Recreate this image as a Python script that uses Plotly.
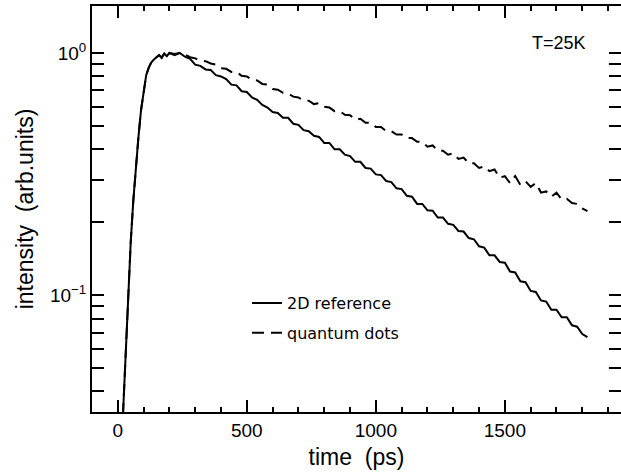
import plotly.graph_objects as go

# ---- data ----
time_ps = [20, 30, 40, 50, 60, 70, 80, 90, 100, 110, 120, 130, 140, 150, 160, 170, 180, 190, 200,
           220, 240, 260, 280, 300, 320, 340, 360, 380, 400, 420, 440, 460, 480, 500, 520, 540, 560,
           580, 600, 620, 640, 660, 680, 700, 720, 740, 760, 780, 800, 820, 840, 860, 880, 900, 920,
           940, 960, 980, 1000, 1020, 1040, 1060, 1080, 1100, 1120, 1140, 1160, 1180, 1200, 1220,
           1240, 1260, 1280, 1300, 1320, 1340, 1360, 1380, 1400, 1420, 1440, 1460, 1480, 1500, 1520,
           1540, 1560, 1580, 1600, 1620, 1640, 1660, 1680, 1700, 1720, 1740, 1760, 1780, 1800, 1820]

ref_2d = [0.032, 0.058, 0.10, 0.165, 0.245, 0.34, 0.45, 0.58, 0.70, 0.81, 0.87, 0.915, 0.94, 0.96,
          0.98, 0.955, 0.995, 0.97, 1.0,
          0.98, 1.0, 0.965, 0.945, 0.895, 0.885, 0.855, 0.85, 0.81, 0.80, 0.78, 0.74, 0.735, 0.695,
          0.69, 0.655, 0.64, 0.61, 0.595, 0.57, 0.565, 0.54, 0.54, 0.51, 0.505, 0.48, 0.475, 0.455,
          0.45, 0.425, 0.425, 0.40, 0.40, 0.38, 0.375, 0.355, 0.355, 0.335, 0.333, 0.315, 0.313,
          0.296, 0.293, 0.276, 0.274, 0.257, 0.255, 0.238, 0.238, 0.224, 0.223, 0.209, 0.209, 0.197,
          0.195, 0.184, 0.183, 0.172, 0.17, 0.159, 0.157, 0.146, 0.146, 0.137, 0.136, 0.125, 0.124,
          0.114, 0.113, 0.104, 0.103, 0.095, 0.094, 0.087, 0.087, 0.081, 0.081, 0.075, 0.074, 0.069,
          0.067]

quantum_dots = [0.032, 0.058, 0.10, 0.165, 0.245, 0.34, 0.45, 0.58, 0.70, 0.81, 0.87, 0.915, 0.94,
                0.96, 0.98, 0.955, 0.995, 0.97, 1.0,
                0.99, 1.0, 0.985, 0.96, 0.95, 0.93, 0.925, 0.905, 0.895, 0.865, 0.86, 0.835, 0.835,
                0.805, 0.80, 0.775, 0.77, 0.745, 0.74, 0.71, 0.705, 0.685, 0.68, 0.66, 0.655, 0.635,
                0.635, 0.615, 0.62, 0.60, 0.595, 0.575, 0.575, 0.555, 0.553, 0.53, 0.535, 0.515,
                0.515, 0.495, 0.495, 0.475, 0.475, 0.46, 0.46, 0.445, 0.445, 0.43, 0.43, 0.41, 0.415,
                0.395, 0.395, 0.38, 0.385, 0.365, 0.37, 0.35, 0.35, 0.335, 0.34, 0.325, 0.33, 0.305,
                0.31, 0.29, 0.31, 0.285, 0.295, 0.28, 0.29, 0.265, 0.268, 0.255, 0.265, 0.248, 0.25,
                0.24, 0.238, 0.228, 0.222]

labels = ["2D reference", "quantum dots"]
y_ticks = [0.1, 1.0]
y_ticktext = ["10<sup>\u22121</sup>", "10<sup>0</sup>"]
x_range = [-100, 1950]

fig = go.Figure()
fig.add_trace(go.Scatter(x=time_ps, y=ref_2d, mode="lines", name=labels[0],
                         legendgroup="a",
                         line=dict(color="black", width=2)))
fig.add_trace(go.Scatter(x=time_ps, y=quantum_dots, mode="lines", name=labels[1],
                         legendgroup="b",
                         line=dict(color="black", width=2, dash="12px,7px")))
# empty helper trace so the overlaid minor-tick x axis is drawn
fig.add_trace(go.Scatter(x=[], y=[], xaxis="x2", yaxis="y", mode="lines",
                         showlegend=False, hoverinfo="skip"))

axis_font = dict(family="Liberation Sans, Arial, sans-serif", size=19, color="black")

fig.update_layout(
    template="none",
    width=621, height=474,
    margin=dict(l=92, r=0, t=6, b=62, autoexpand=False),
    paper_bgcolor="white", plot_bgcolor="white",
    font=axis_font,
    showlegend=True,
    legend=dict(x=0.293, y=0.31, xanchor="left", yanchor="top",
                bgcolor="rgba(0,0,0,0)", traceorder="grouped", tracegroupgap=6,
                font=dict(family="DejaVu Sans, sans-serif", size=16, color="black"),
                itemwidth=30),
    annotations=[dict(text="T=25K", x=0.883, y=0.909, xref="paper", yref="paper",
                      xanchor="center", yanchor="middle",
                      showarrow=False, font=dict(family="Liberation Sans, Arial, sans-serif",
                                                  size=18, color="black"))],
    # secondary x axis only carrying the 100 ps minor ticks (bottom and top)
    xaxis2=dict(overlaying="x", side="bottom", anchor="y", range=x_range,
                tickmode="linear", tick0=0, dtick=100, ticks="inside", ticklen=5,
                tickwidth=1.5, tickcolor="black", showticklabels=False, showline=False,
                mirror="allticks", showgrid=False, zeroline=False, automargin=False),
)

fig.layout.xaxis.update(
    range=x_range, tickmode="linear", tick0=0, dtick=500, ticks="inside", ticklen=12,
    tickwidth=2, tickcolor="black", showline=True, linecolor="black", linewidth=2,
    mirror="allticks", showgrid=False, zeroline=False, automargin=False,
    title=dict(text="time\u00a0\u00a0(ps)", font=dict(size=23), standoff=9),
    tickfont=dict(size=19),
)
fig.update_yaxes(
    type="log", range=[-1.483, 0.194], tickmode="array", tickvals=y_ticks, ticktext=y_ticktext,
    ticks="inside", ticklen=12, tickwidth=2, tickcolor="black",
    showline=True, linecolor="black", linewidth=2, mirror="allticks",
    showgrid=False, zeroline=False, automargin=False,
    minor=dict(ticks="inside", dtick="D1", ticklen=8, tickwidth=1.5, tickcolor="black",
               showgrid=False),
    title=dict(text="intensity\u00a0\u00a0(arb.units)", font=dict(size=23), standoff=10),
    tickfont=dict(size=19),
)

fig.write_html("out.html", config={"displayModeBar": False},
               post_script="document.body.style.margin='0';")
